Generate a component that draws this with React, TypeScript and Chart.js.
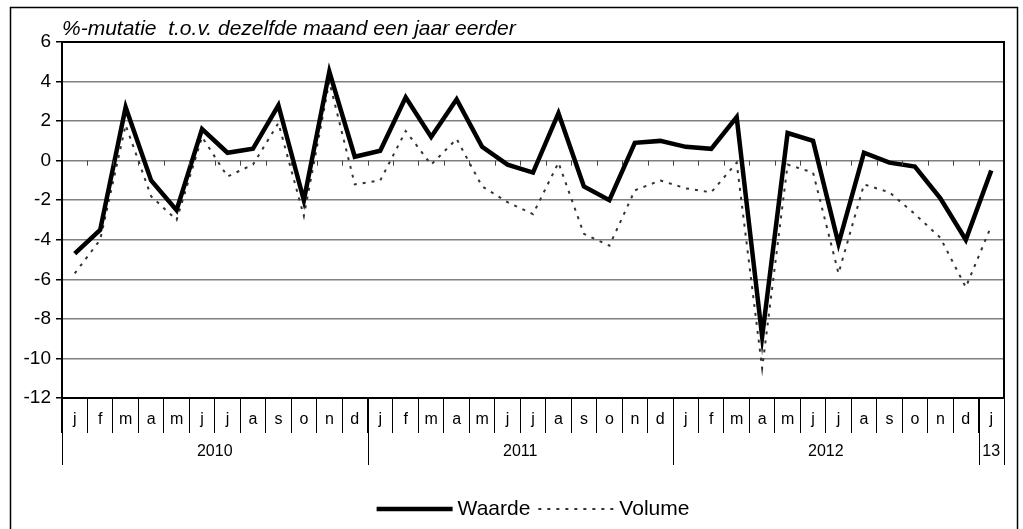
import React, { useEffect, useRef } from 'react';
import { Chart, registerables } from 'chart.js';

Chart.register(...registerables);

// ---- Data ----
const monthLetters = ['j', 'f', 'm', 'a', 'm', 'j', 'j', 'a', 's', 'o', 'n', 'd'];
const months: string[] = [
  ...monthLetters, // 2010
  ...monthLetters, // 2011
  ...monthLetters, // 2012
  'j', // 2013
];
const yearLabels = ['2010', '2011', '2012', '13'];
const monthsPerYear = [12, 12, 12, 1];

const waarde = [
  -4.7, -3.5, 2.7, -1.0, -2.5, 1.6, 0.4, 0.6, 2.8, -2.0, 4.5, 0.2,
  0.5, 3.2, 1.2, 3.1, 0.7, -0.2, -0.6, 2.4, -1.3, -2.0, 0.9, 1.0,
  0.7, 0.6, 2.2, -8.9, 1.4, 1.0, -4.2, 0.4, -0.1, -0.3, -1.9, -4.0,
  -0.5,
];
const volume = [
  -5.7, -4.0, 1.8, -1.8, -3.0, 1.2, -0.8, -0.2, 1.9, -2.8, 4.0, -1.2,
  -1.0, 1.5, -0.2, 1.1, -1.3, -2.1, -2.7, -0.1, -3.7, -4.3, -1.5, -1.0,
  -1.4, -1.6, -0.1, -10.5, -0.2, -0.6, -5.7, -1.2, -1.6, -2.7, -3.9, -6.4,
  -3.3,
];

const yMin = -12;
const yMax = 6;
const yStep = 2;

const titleText = '%-mutatie  t.o.v. dezelfde maand een jaar eerder';
const FONT = '"Liberation Sans", Arial, sans-serif';

const decorPlugin = {
  id: 'decor',
  beforeDraw(chart: any) {
    const ctx = chart.ctx;
    ctx.save();
    ctx.fillStyle = '#fff';
    ctx.fillRect(0, 0, chart.width, chart.height);
    ctx.restore();
  },
  afterDraw(chart: any) {
    const ctx = chart.ctx as CanvasRenderingContext2D;
    const area = chart.chartArea;
    const xs = chart.scales.x;
    const ys = chart.scales.y;
    const half = (xs.getPixelForValue(1) - xs.getPixelForValue(0)) / 2;
    const boundary = (i: number) => xs.getPixelForValue(i) - half;

    ctx.save();
    // outer frame
    ctx.strokeStyle = '#000';
    ctx.lineWidth = 1.5;
    ctx.strokeRect(10.5, 7.5, 1007, 560);

    // tick marks on zero line
    const y0 = ys.getPixelForValue(0);
    ctx.strokeStyle = '#444';
    ctx.lineWidth = 1;
    for (let i = 1; i < months.length; i++) {
      const x = Math.round(boundary(i)) + 0.5;
      ctx.beginPath();
      ctx.moveTo(x, y0);
      ctx.lineTo(x, y0 + 5);
      ctx.stroke();
    }

    // plot area border
    ctx.strokeStyle = '#000';
    ctx.lineWidth = 2;
    ctx.strokeRect(area.left, area.top, area.right - area.left, area.bottom - area.top);

    // year separators and labels
    ctx.strokeStyle = '#000';
    ctx.lineWidth = 1;
    ctx.fillStyle = '#000';
    ctx.font = `16px ${FONT}`;
    ctx.textAlign = 'center';
    ctx.textBaseline = 'middle';
    let idx = 0;
    const drawSep = (i: number) => {
      const x = Math.round(boundary(i)) + 0.5;
      ctx.beginPath();
      ctx.moveTo(x, area.bottom);
      ctx.lineTo(x, area.bottom + 67);
      ctx.stroke();
    };
    drawSep(0);
    yearLabels.forEach((lab, k) => {
      const start = idx;
      const end = idx + monthsPerYear[k];
      drawSep(end);
      const cx = (boundary(start) + boundary(end)) / 2;
      ctx.fillText(lab, cx, area.bottom + 54);
      idx = end;
    });

    // title
    ctx.font = `italic 21px ${FONT}`;
    ctx.textAlign = 'left';
    ctx.textBaseline = 'alphabetic';
    ctx.fillText(titleText, area.left, 35);

    // legend
    ctx.font = `21px ${FONT}`;
    ctx.textBaseline = 'middle';
    const ly = 509;
    const lineLen = 76;
    const items = chart.data.datasets.map((d: any) => ({
      label: d.label,
      color: d.borderColor,
      width: d.borderWidth,
      dash: d.borderDash || [],
    }));
    let total = 0;
    items.forEach((it: any, k: number) => {
      total += lineLen + 5 + ctx.measureText(it.label).width + (k < items.length - 1 ? 8 : 0);
    });
    let lx = (area.left + area.right) / 2 - total / 2;
    items.forEach((it: any) => {
      ctx.strokeStyle = it.color;
      ctx.lineWidth = it.width;
      ctx.setLineDash(it.dash);
      ctx.beginPath();
      ctx.moveTo(lx, ly);
      ctx.lineTo(lx + lineLen, ly);
      ctx.stroke();
      ctx.setLineDash([]);
      lx += lineLen + 5;
      ctx.fillStyle = '#000';
      ctx.fillText(it.label, lx, ly);
      lx += ctx.measureText(it.label).width + 8;
    });
    ctx.restore();
  },
};

export default function App() {
  const ref = useRef<HTMLCanvasElement | null>(null);

  useEffect(() => {
    document.body.style.margin = '0';
    const canvas = ref.current;
    if (!canvas) return;
    Chart.defaults.font.family = FONT;
    const chart = new Chart(canvas, {
      type: 'line',
      data: {
        labels: months,
        datasets: [
          {
            label: 'Waarde',
            data: waarde,
            borderColor: '#000',
            backgroundColor: '#000',
            borderWidth: 4.5,
            pointRadius: 0,
            tension: 0,
            borderJoinStyle: 'miter',
          },
          {
            label: 'Volume',
            data: volume,
            borderColor: '#333',
            backgroundColor: '#333',
            borderWidth: 2,
            borderDash: [3, 6],
            pointRadius: 0,
            tension: 0,
          },
        ],
      },
      options: {
        responsive: false,
        animation: false,
        devicePixelRatio: 1,
        layout: { padding: { left: 10, right: 19, top: 42, bottom: 0 } },
        plugins: {
          legend: { display: false },
          tooltip: { enabled: false },
          title: { display: false },
        },
        scales: {
          x: {
            type: 'category',
            offset: true,
            border: { display: false },
            grid: {
              display: true,
              drawOnChartArea: false,
              drawTicks: true,
              tickLength: 35,
              offset: true,
              color: '#000',
              tickColor: '#000',
              lineWidth: 1,
            },
            ticks: {
              padding: -23,
              autoSkip: false,
              maxRotation: 0,
              minRotation: 0,
              color: '#000',
              font: { size: 16, family: FONT },
            },
            afterFit: (s: any) => {
              s.height = 131;
            },
          },
          y: {
            min: yMin,
            max: yMax,
            border: { display: false },
            grid: {
              color: '#808080',
              tickColor: '#000',
              lineWidth: 1.5,
              tickLength: 6,
              drawTicks: true,
            },
            ticks: {
              stepSize: yStep,
              padding: 5,
              color: '#000',
              font: { size: 19, family: FONT },
            },
            afterFit: (s: any) => {
              s.width = 52;
            },
          },
        },
      },
      plugins: [decorPlugin],
    });
    return () => chart.destroy();
  }, []);

  return (
    <div style={{ width: 1023, height: 529 }}>
      <canvas ref={ref} width={1023} height={529} style={{ display: 'block' }} />
    </div>
  );
}
